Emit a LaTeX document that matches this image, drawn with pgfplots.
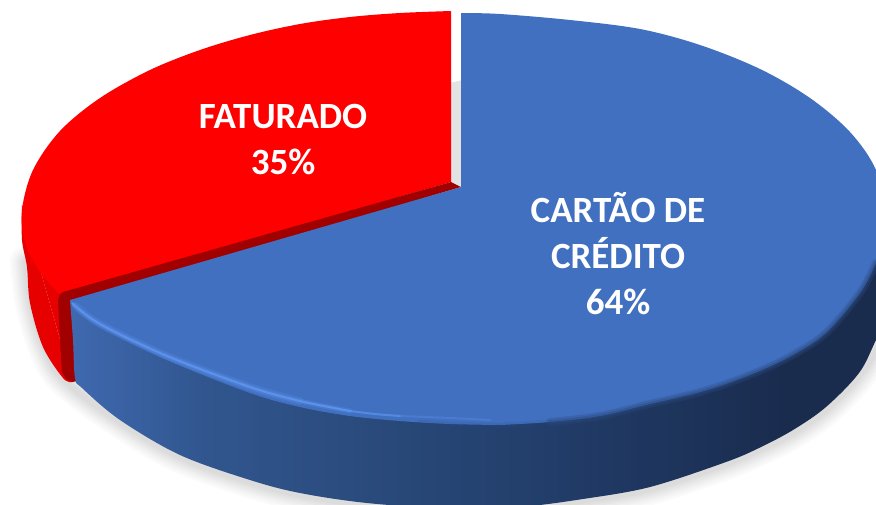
\documentclass[border=0pt]{standalone}
\usepackage{fontspec}
\setmainfont{Carlito}
\usepackage{pgfplots}
\usepackage{pgfplotstable}
\pgfplotsset{compat=1.18}
\definecolor{bluetop}{HTML}{4170C0}
\definecolor{bluelit}{HTML}{5C92EC}
\definecolor{blueblur}{HTML}{2B4A80}
\definecolor{redside}{HTML}{E60000}
\definecolor{reddark}{HTML}{A00000}
\definecolor{sidea}{HTML}{3F69B0}
\definecolor{sideb}{HTML}{31568F}
\definecolor{sidec}{HTML}{284878}
\definecolor{sided}{HTML}{1F3862}
\definecolor{sidee}{HTML}{1A2C4E}
\pgfdeclarehorizontalshading{bluesideshade}{100bp}{
  color(0bp)=(sidea);
  color(25bp)=(sidea);
  color(33bp)=(sideb);
  color(45bp)=(sidec);
  color(58bp)=(sided);
  color(68bp)=(sidee);
  color(75bp)=(sidee);
  color(100bp)=(sidee)}
% outline the shadow follows, in picture pixels
\pgfplotstableread{
x y
26 262
31 303
44 347
64 380
120 422
180 457
250 482
300 495
367 505
455 511
520 509
583 501
650 489
726 464
759 450
793 433
826 410
859 376
884 338
}\shadowtab
% front rim of the blue top face
\pgfplotstableread{
x y
550 422
600 416
650 404
693 394
726 384
762 370
793 355
826 333
860 293
876 263
}\rimtab
\begin{document}
\begin{tikzpicture}
\begin{axis}[
  width=876pt, height=504pt, scale only axis,
  xmin=0, xmax=876, ymin=0, ymax=504, y dir=reverse,
  hide axis, clip=true,
  every axis plot/.append style={smooth, tension=0.55, no markers},
]
% keeps the page at the full frame
\addplot[draw=none, fill=white, sharp plot] coordinates {(0,0) (876,0) (876,504) (0,504)};
% soft shadow under the disc
\addplot[draw=black, opacity=0.02, line width=32pt, line cap=round] table {\shadowtab};
\addplot[draw=black, opacity=0.02, line width=27pt, line cap=round] table {\shadowtab};
\addplot[draw=black, opacity=0.02, line width=22pt, line cap=round] table {\shadowtab};
\addplot[draw=black, opacity=0.02, line width=18pt, line cap=round] table {\shadowtab};
\addplot[draw=black, opacity=0.02, line width=14pt, line cap=round] table {\shadowtab};
\addplot[draw=black, opacity=0.02, line width=10pt, line cap=round] table {\shadowtab};
\addplot[draw=black, opacity=0.02, line width=6pt, line cap=round] table {\shadowtab};
% gap between the slices
\addplot[draw=none, fill=black!11, sharp plot] coordinates {
  (449,83) (463,80) (463,190) (449,190)
};
% red side
\addplot[draw=none, fill=redside] coordinates {
  (22,205) (22,240) (27,267) (30,303) (43,347) (63,378) (72,382)
};
\addplot[draw=none, fill=redside, sharp plot] coordinates {
  (22,205) (72,382) (85,300) (60,280)
};
% red top
\addplot[draw=none, fill=red] coordinates {
  (451,11) (400,13) (350,17) (300,24) (250,35) (200,50) (150,70) (100,98) (60,131)
  (33,170) (22,210) (25,242) (40,272) (60,295)
};
\addplot[draw=none, fill=red, sharp plot] coordinates {
  (451,11) (300,100) (60,295) (451,182)
};
% red cut face
\addplot[draw=none, fill=reddark, sharp plot] coordinates {
  (451,182) (63,292) (60,294) (58,300) (60,340) (62,372) (66,379) (72,382) (78,381) (85,300) (461,187)
};
% blue side
\addplot[draw=none, shading=bluesideshade] coordinates {
  (70,300) (73,340) (75,378) (82,388) (120,420) (180,455) (250,480) (300,493) (367,503)
  (455,509) (520,507) (583,499) (650,487) (726,462) (759,448) (793,430) (826,407) (859,373) (876,340)
  (895,300) (900,200)
};
% blue top, right and front arcs and the part between them
\addplot[draw=none, fill=bluetop] coordinates {
  (461,13) (500,14) (570,20) (640,29) (700,45) (760,69) (810,98) (850,132) (876,170)
  (887,217) (885,240) (876,263) (860,293) (826,333) (793,355) (762,370) (726,384) (693,394)
  (650,404) (600,416) (550,422) (500,425)
};
\addplot[draw=none, fill=bluetop] coordinates {
  (500,425) (450,424) (400,421) (350,416) (300,407) (250,393)
  (167,360) (100,327) (78,311) (72,304) (70,300)
};
\addplot[draw=none, fill=bluetop, sharp plot] coordinates {
  (461,13) (490,30) (510,415) (500,425) (100,322) (70,300) (461,187)
};
% blurred rim, fading in towards the right of the top face
\addplot[draw=blueblur, opacity=0.15, line width=5pt, line cap=round] coordinates {
  (420,422) (450,424) (500,425) (550,422)
};
\addplot[draw=blueblur, opacity=0.3, line width=8pt, line cap=round] table {\rimtab};
\addplot[draw=blueblur, opacity=0.4, line width=4pt, line cap=round] table {\rimtab};
% lit bevel along the front edge, fading out to the right
\addplot[draw=bluelit, opacity=0.2, line width=8pt, line cap=round] coordinates {
  (76,306) (100,324) (167,356) (250,387) (300,401)
};
\addplot[draw=bluelit, opacity=0.3, line width=5pt, line cap=round] coordinates {
  (74,305) (100,324) (167,356) (250,387) (300,401) (350,411)
};
\addplot[draw=bluelit, opacity=0.35, line width=2pt, line cap=round] coordinates {
  (400,416) (450,418) (490,420)
};
\addplot[draw=bluelit, opacity=0.75, line width=2pt, line cap=round] coordinates {
  (350,411) (375,414) (400,416)
};
\addplot[draw=bluelit, line width=2pt, line cap=round] coordinates {
  (72,303) (100,324) (167,356) (250,387) (300,401) (350,411)
};
\node[text=white, font=\fontsize{37}{46}\selectfont\bfseries, align=center]
  at (axis cs:283,140) {FATURADO\\35\%};
\node[text=white, font=\fontsize{37}{46}\selectfont\bfseries, align=center]
  at (axis cs:618,253.5) {CARTÃO DE\\CRÉDITO\\64\%};
\end{axis}
\end{tikzpicture}
\end{document}
